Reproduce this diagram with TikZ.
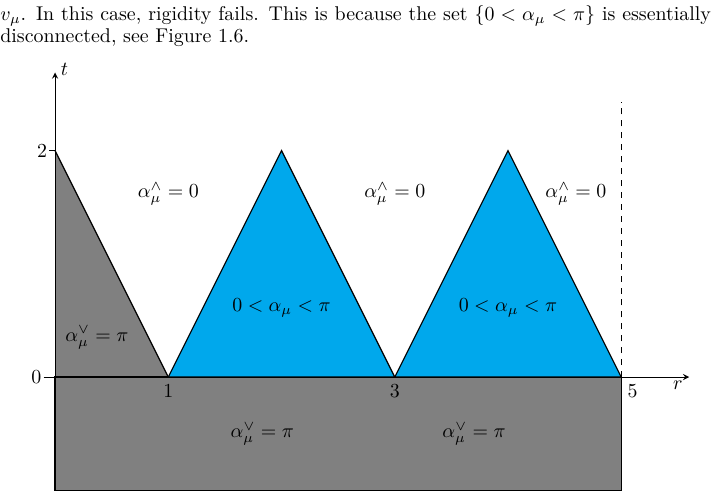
\documentclass[tikz,border=0pt]{standalone}
\usepackage{amssymb}
\begin{document}
\begin{tikzpicture}[x=2cm,y=2cm,
  lab/.style={inner sep=1pt},
  reg/.style={draw=black,line width=0.6pt}]
\definecolor{cy}{HTML}{00A8EC}
\useasboundingbox (-0.486,-1.067) rectangle (5.881,3.33);
\fill[gray] (0,2) -- (1,0) -- (5,0) -- (5,-1) -- (0,-1) -- cycle;
\draw[line width=0.6pt] (0,2) -- (1,0);
\draw[line width=0.6pt] (0,-1) rectangle (5,0);
\filldraw[reg,fill=cy] (1,0) -- (2,2) -- (3,0) -- cycle;
\filldraw[reg,fill=cy] (3,0) -- (4,2) -- (5,0) -- cycle;
\draw[dashed] (5,0) -- (5,2.43);
\draw[->,>=stealth] (-0.1,0) -- (5.6,0);
\draw[->,>=stealth] (0,-0) -- (0,2.69);
\draw (0,2) -- (-0.05,2);
\node[lab,anchor=west] (tl) at (0.03,2.72) {$t$};
\node[lab] (rl) at (5.5,-0.07) {$r$};
\node[lab,anchor=east] (y2) at (-0.05,2) {2};
\node[lab,anchor=east] (y0) at (-0.1,0) {0};
\node[lab] (x1) at (1,-0.12) {1};
\node[lab] (x3) at (3,-0.12) {3};
\node[lab] (x5) at (5.1,-0.12) {5};
\node[lab] (a1) at (1,1.62) {$\alpha_\mu^\wedge=0$};
\node[lab] (a2) at (3,1.62) {$\alpha_\mu^\wedge=0$};
\node[lab] (a3) at (4.6,1.62) {$\alpha_\mu^\wedge=0$};
\node[lab] (b1) at (2,0.61) {$0<\alpha_\mu<\pi$};
\node[lab] (b2) at (4,0.61) {$0<\alpha_\mu<\pi$};
\node[lab] (c1) at (0.37,0.35) {$\alpha_\mu^\vee=\pi$};
\node[lab] (c2) at (1.83,-0.5) {$\alpha_\mu^\vee=\pi$};
\node[lab] (c3) at (3.7,-0.5) {$\alpha_\mu^\vee=\pi$};
\node[inner sep=0pt,anchor=base west] (p1) at (-0.486,3.15) {\hbox to 12.55cm{$v_\mu$. In this case, rigidity fails. This is because the set $\{0<\alpha_\mu<\pi\}$ is essentially}};
\node[inner sep=0pt,anchor=base west] (p2) at (-0.486,2.955) {disconnected, see Figure 1.6.};
\end{tikzpicture}
\end{document}
